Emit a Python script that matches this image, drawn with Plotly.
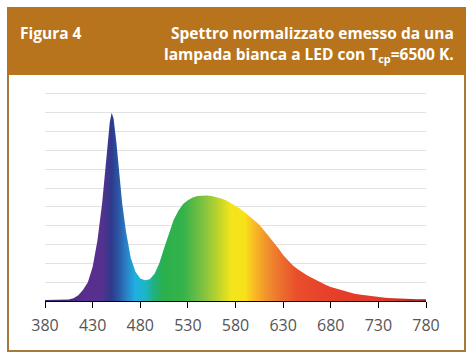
import plotly.graph_objects as go

# ---- data ----
wavelength = [380, 385, 390, 395, 400, 405, 410, 415, 420, 425, 430, 435, 440, 443, 446, 448, 450,
              452, 455, 458, 461, 465, 470, 475, 480, 485, 490, 495, 500, 505, 510, 515, 520, 525,
              530, 535, 540, 545, 550, 555, 560, 565, 570, 575, 580, 585, 590, 595, 600, 605, 610,
              615, 620, 625, 630, 635, 640, 645, 650, 655, 660, 665, 670, 675, 680, 685, 690, 695,
              700, 705, 710, 715, 720, 725, 730, 735, 740, 745, 750, 755, 760, 765, 770, 775, 780]
intensity = [0.005, 0.005, 0.005, 0.005, 0.006, 0.008, 0.015, 0.03, 0.06, 0.10, 0.18, 0.32, 0.52, 0.68,
             0.85, 0.95, 1.00, 0.97, 0.84, 0.68, 0.52, 0.37, 0.23, 0.155, 0.12, 0.11, 0.115, 0.145,
             0.20, 0.28, 0.36, 0.43, 0.48, 0.515, 0.535, 0.55, 0.558, 0.56, 0.56, 0.558, 0.552, 0.545,
             0.535, 0.52, 0.505, 0.49, 0.47, 0.45, 0.43, 0.405, 0.375, 0.345, 0.31, 0.28, 0.245, 0.215,
             0.19, 0.17, 0.152, 0.137, 0.123, 0.109, 0.096, 0.085, 0.075, 0.067, 0.058, 0.05, 0.044,
             0.038, 0.034, 0.03, 0.027, 0.024, 0.021, 0.018, 0.016, 0.014, 0.013, 0.012, 0.011, 0.01,
             0.0095, 0.009, 0.009]
tick_values = [380, 430, 480, 530, 580, 630, 680, 730, 780]
tick_labels = ["380", "430", "480", "530", "580", "630", "680", "730", "780"]

spectrum_nm = [380, 405, 420, 440, 450, 458, 465, 475, 485, 495, 505, 525, 545, 560, 575, 590,
               600, 615, 630, 645, 680, 730, 760, 780]
spectrum_col = ["#3a2a70", "#45297a", "#5a2d8e", "#55318f", "#2e3a8c", "#2a5aa8", "#2a80c4",
                "#1eb0e2", "#1db5c8", "#22b07a", "#2bb04c", "#35b24a", "#7cc142", "#b5d12f",
                "#f2e51b", "#f8e21a", "#f8b924", "#f08c2d", "#ec6a2e", "#e94e2a", "#e6402a",
                "#e03a2a", "#c03028", "#902828"]

title_left = "Figura 4"
title_line1 = "Spettro normalizzato emesso da una"
title_line2 = "lampada bianca a LED con T<sub>cp</sub>=6500 K."

W, H = 476, 359
ML, MR, MT, MB = 45, 50, 90, 58
PW, PH = W - ML - MR, H - MT - MB
Y_TOP = 1.121


def px(x):
    return (x - ML) / PW


def py(y):
    return (H - MB - y) / PH


lo, hi = spectrum_nm[0], spectrum_nm[-1]
cscale = [[(w - lo) / (hi - lo), c] for w, c in zip(spectrum_nm, spectrum_col)]

fig = go.Figure()
fig.add_trace(go.Scatter(
    x=wavelength, y=intensity, mode="lines", line=dict(width=0),
    fill="tozeroy",
    fillgradient=dict(type="horizontal", colorscale=cscale, start=lo, stop=hi),
    hoverinfo="skip", showlegend=False,
))

title_font = dict(size=15.5, color="white", family="Open Sans", weight=700)

fig.update_layout(
    width=W, height=H,
    margin=dict(l=ML, r=MR, t=MT, b=MB),
    paper_bgcolor="white", plot_bgcolor="white",
    font=dict(family="Open Sans", color="#555555"),
    xaxis=dict(range=[380, 780], tickvals=tick_values, ticktext=tick_labels,
               showgrid=False, zeroline=False, showline=True, linecolor="black", linewidth=1,
               ticks="outside", ticklen=6, tickcolor="black", tickwidth=1,
               tickfont=dict(size=16, color="#555555", family="Open Sans"), ticklabelstandoff=4),
    yaxis=dict(range=[0, Y_TOP], tick0=0, dtick=0.1, showticklabels=False, showgrid=True,
               gridcolor="#e2e2e2", gridwidth=1, zeroline=False, showline=False),
    shapes=[
        dict(type="rect", xref="paper", yref="paper", x0=px(8), x1=px(465), y0=py(8), y1=py(351),
             line=dict(color="#A87A3A", width=2), fillcolor="rgba(0,0,0,0)", layer="below"),
        dict(type="rect", xref="paper", yref="paper", x0=px(7), x1=px(466), y0=py(7), y1=py(75),
             line=dict(width=0), fillcolor="#B8741C", layer="below"),
    ],
    annotations=[
        dict(text=title_left, xref="paper", yref="paper", x=px(18), y=py(33), xanchor="left",
             yanchor="middle", showarrow=False, font=title_font),
        dict(text=title_line1, xref="paper", yref="paper", x=px(456), y=py(33), xanchor="right",
             yanchor="middle", showarrow=False, font=title_font),
        dict(text=title_line2, xref="paper", yref="paper", x=px(456), y=py(54), xanchor="right",
             yanchor="middle", showarrow=False, font=title_font),
    ],
)

fig.write_html("out.html", config={"displayModeBar": False},
               post_script="document.body.style.margin='0';")
